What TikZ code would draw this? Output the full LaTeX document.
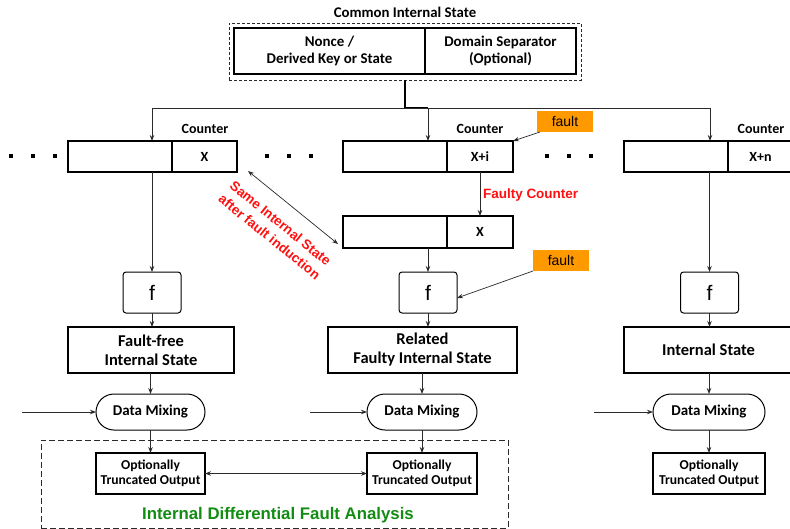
\documentclass[tikz,border=0pt]{standalone}
\usepackage{fontspec}
\usetikzlibrary{arrows.meta}
\newfontfamily\calfont{Carlito}
\newfontfamily\arifont{Liberation Sans}
\definecolor{faultorange}{HTML}{FF9900}
\definecolor{alertred}{HTML}{FF1010}
\definecolor{idagreen}{HTML}{128C12}
\definecolor{linegray}{HTML}{2A2A2A}

\begin{document}
\begin{tikzpicture}[x=1pt,y=-1pt,
  >={Stealth[length=6pt,width=4.5pt]},
  every node/.style={inner sep=0pt, outer sep=0pt},
  conn/.style={draw=linegray, line width=0.9pt},
  reg/.style={draw, line width=1.2pt, minimum height=31pt,
    font={\calfont\bfseries\fontsize{14}{16}\selectfont}},
  lbl/.style={font={\calfont\bfseries\fontsize{14}{16}\selectfont}},
  topbox/.style={draw, line width=1.2pt, minimum height=46pt, align=center,
    font={\calfont\bfseries\fontsize{14.9}{16.5}\selectfont}},
  fbox/.style={draw, line width=1pt, rounded corners=3pt, minimum width=58pt,
    minimum height=41pt, font={\arifont\fontsize{21}{23}\selectfont}},
  statebox/.style={draw, line width=1.2pt, minimum height=46pt, align=center,
    font={\calfont\bfseries\fontsize{16.5}{19}\selectfont}},
  mixbox/.style={draw, line width=1pt, rounded corners=18pt, minimum height=36pt,
    font={\calfont\bfseries\fontsize{15}{17}\selectfont}},
  outbox/.style={draw, line width=1.2pt, minimum height=41pt, align=center,
    font={\calfont\bfseries\fontsize{13.6}{15}\selectfont}},
  faultbox/.style={fill=faultorange, minimum width=56pt, minimum height=21pt,
    font={\arifont\fontsize{14}{16}\selectfont}},
  redlbl/.style={text=alertred, align=center,
    font={\arifont\bfseries\fontsize{13.5}{17.5}\selectfont}}
]
\useasboundingbox (0,0) rectangle (790,528);

% ---- common internal state ----
\node[font={\calfont\bfseries\fontsize{14.8}{16}\selectfont}] (cist) at (405,12) {Common Internal State};
\node[draw=linegray, line width=0.8pt, dash pattern=on 3pt off 2pt,
  minimum width=352pt, minimum height=57pt] (cis) at (405,51.5) {};
\node[topbox, minimum width=191pt] (nonce) at (329.5,51) {Nonce /\\Derived Key or State};
\node[topbox, minimum width=151pt] (dsep) at (500.5,51) {Domain Separator\\(Optional)};

% ---- distribution bus ----
\coordinate (j) at (405,108);
\coordinate (jr) at (428,108);
\coordinate (b1) at (152,108);
\coordinate (b3) at (710,108);
\draw[line width=1.8pt] (cis.south) -- (j) -- (jr);
\draw[conn] (b1) -- (b3);

% ---- counter registers ----
\node[reg, minimum width=104pt] (c1l) at (120,156.5) {};
\node[reg, minimum width=65pt] (c1r) at (204.5,156.5) {X};
\node[reg, minimum width=104pt] (c2l) at (395,156.5) {};
\node[reg, minimum width=66pt] (c2r) at (480,156.5) {X+i};
\node[reg, minimum width=104pt] (c4l) at (676,156.5) {};
\node[reg, minimum width=65pt] (c4r) at (760.5,156.5) {X+n};
\node[reg, minimum width=104pt, minimum height=32pt] (c3l) at (395,232) {};
\node[reg, minimum width=66pt, minimum height=32pt] (c3r) at (480,232) {X};

\node[lbl] (k1) at (205,129) {Counter};
\node[lbl] (k2) at (480,129) {Counter};
\node[lbl] (k4) at (761,129) {Counter};

\foreach \x in {11,33,55,267,289,311,547,569,591}
  \fill (\x-2,154) rectangle (\x+2,158);

\draw[conn,->] (b1) -- (b1 |- c1l.north);
\draw[conn,->] (jr) -- (jr |- c2l.north);
\draw[conn,->] (b3) -- (b3 |- c4l.north);

% ---- faulty counter ----
\draw[conn,->] (c2r.south) -- (c3r.north);
\node[redlbl, anchor=west] (fc) at (483,195) {Faulty Counter};

\node[faultbox] (fault1) at (565,121.5) {fault};
\draw[draw=linegray, line width=0.7pt, ->] ([xshift=3pt]fault1.south west) -- (c2r.north east);

% ---- round functions ----
\node[fbox] (f1) at (152,292.5) {f};
\node[fbox] (f2) at (428,292.5) {f};
\node[fbox] (f3) at (709.5,292.5) {f};

\draw[conn,->] (c1l.south -| f1) -- (f1.north);
\draw[conn,->] (c3l.south -| f2) -- (f2.north);
\draw[conn,->] (c4l.south -| f3) -- (f3.north);

\node[faultbox] (fault2) at (561,260.5) {fault};
\draw[draw=linegray, line width=0.7pt, ->] (fault2.south west) -- ([yshift=-5.5pt]f2.east);

% ---- same internal state ----
\draw[draw=linegray, line width=0.7pt, <->] ([xshift=11pt,yshift=1pt]c1r.south east)
  -- ([xshift=-5pt,yshift=4pt]c3l.south west);
\node[redlbl, rotate=-39] (same) at (275,230) {Same Internal State\\after fault induction};

% ---- internal states ----
\node[statebox, minimum width=166pt] (ff) at (151,350) {Fault-free\\Internal State};
\node[statebox, minimum width=189pt] (rf) at (422.5,350) {Related\\Faulty Internal State};
\node[statebox, minimum width=169pt] (is) at (708.5,350) {Internal State};

\draw[conn,->] (f1.south) -- (f1.south |- ff.north);
\draw[conn,->] (f2.south) -- (f2.south |- rf.north);
\draw[conn,->] (f3.south) -- (f3.south |- is.north);

% ---- data mixing ----
\node[mixbox, minimum width=109pt] (dm1) at (150.5,412) {Data Mixing};
\node[mixbox, minimum width=110pt] (dm2) at (422,412) {Data Mixing};
\node[mixbox, minimum width=112pt] (dm3) at (709,412) {Data Mixing};

\draw[conn,->] (ff.south -| dm1) -- (dm1.north);
\draw[conn,->] (rf.south -| dm2) -- (dm2.north);
\draw[conn,->] (is.south -| dm3) -- (dm3.north);

\coordinate (in1) at (22,412);
\coordinate (in2) at (310,412);
\coordinate (in3) at (594,412);
\draw[conn,->] (in1) -- (dm1.west);
\draw[conn,->] (in2) -- (dm2.west);
\draw[conn,->] (in3) -- (dm3.west);

% ---- analysis region ----
\node[draw=linegray, line width=1pt, dash pattern=on 6pt off 3pt,
  minimum width=467pt, minimum height=88pt] (ida) at (274.5,484) {};
\node[text=idagreen, font={\arifont\bfseries\fontsize{16.8}{19}\selectfont}]
  (idat) at (278,515) {Internal Differential Fault Analysis};

% ---- outputs ----
\node[outbox, minimum width=109pt] (o1) at (150.5,473.5) {Optionally\\Truncated Output};
\node[outbox, minimum width=110pt] (o2) at (422,473.5) {Optionally\\Truncated Output};
\node[outbox, minimum width=112pt] (o3) at (709,473.5) {Optionally\\Truncated Output};

\draw[conn,->] (dm1.south) -- (o1.north);
\draw[conn,->] (dm2.south) -- (o2.north);
\draw[conn,->] (dm3.south) -- (o3.north);
\draw[conn,<->] (o1.east) -- (o2.west);

\end{tikzpicture}
\end{document}
